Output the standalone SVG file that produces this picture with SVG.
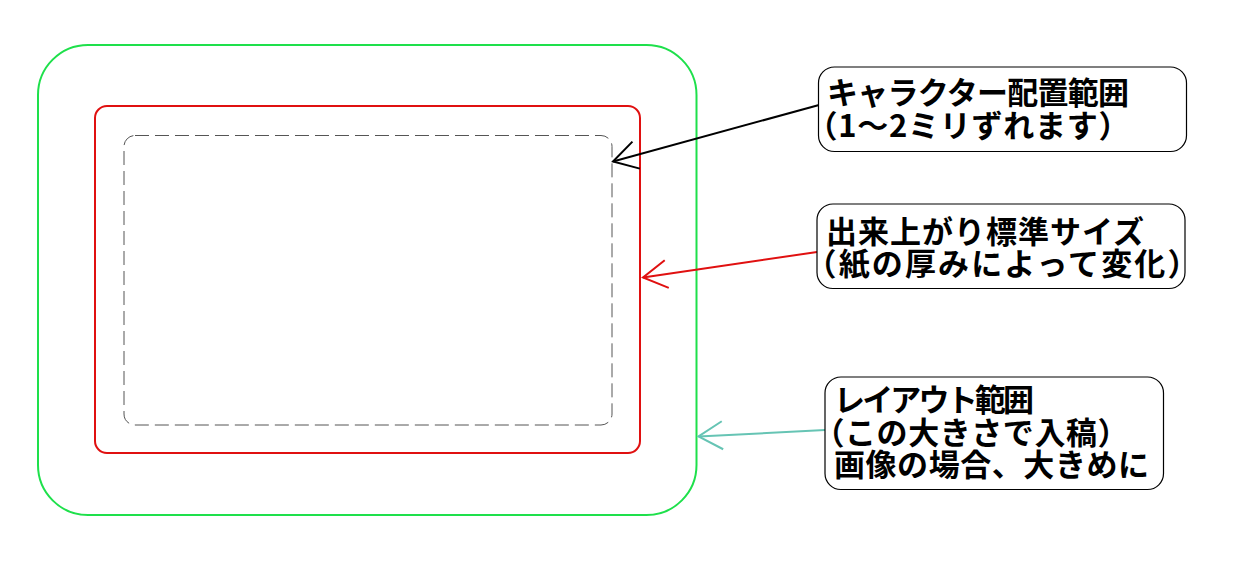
<svg xmlns="http://www.w3.org/2000/svg" width="1240" height="577" viewBox="0 0 1240 577">
<style>
.frame{fill:none}
.label{fill:#fff;stroke:#000;stroke-width:1.2}
.txt{font-family:"Noto Sans CJK JP","Noto Sans",sans-serif;font-size:31px;font-weight:bold;fill:#000}
.hw{font-feature-settings:"halt" 1}
.conn{fill:none;stroke-width:2}
</style>
<defs>
<marker id="ahBlack" markerUnits="userSpaceOnUse" markerWidth="40" markerHeight="40" refX="0" refY="0" orient="auto" overflow="visible" viewBox="-30 -20 40 40">
<path d="M-24,-14 L0,0 L-24,14" fill="none" stroke="#000" stroke-width="2"/>
</marker>
<marker id="ahRed" markerUnits="userSpaceOnUse" markerWidth="40" markerHeight="40" refX="0" refY="0" orient="auto" overflow="visible" viewBox="-30 -20 40 40">
<path d="M-24,-14 L0,0 L-24,14" fill="none" stroke="#e01010" stroke-width="2"/>
</marker>
<marker id="ahTeal" markerUnits="userSpaceOnUse" markerWidth="40" markerHeight="40" refX="0" refY="0" orient="auto" overflow="visible" viewBox="-30 -20 40 40">
<path d="M-24,-14 L0,0 L-24,14" fill="none" stroke="#66c4b4" stroke-width="2"/>
</marker>
</defs>
<rect width="1240" height="577" fill="#fff"/>
<g id="layout-area">
<rect class="frame" x="38" y="45" width="658.5" height="470" rx="50" ry="50" stroke="#1ee04b" stroke-width="2"/>
</g>
<g id="finish-size">
<rect class="frame" x="95" y="106" width="545" height="347" rx="12" ry="12" stroke="#e01010" stroke-width="2"/>
</g>
<g id="character-area">
<rect class="frame" x="124" y="135.5" width="488" height="289.5" rx="11" ry="11" stroke="#555" stroke-width="1" stroke-dasharray="14 6"/>
</g>
<g id="connectors">
<line class="conn" x1="819" y1="105" x2="613" y2="161.5" stroke="#000" marker-end="url(#ahBlack)"/>
<line class="conn" x1="817" y1="252" x2="643" y2="277.5" stroke="#e01010" marker-end="url(#ahRed)"/>
<line class="conn" x1="825" y1="430" x2="698.5" y2="436.5" stroke="#66c4b4" marker-end="url(#ahTeal)"/>
</g>
<g id="label-character">
<rect class="label" x="818.5" y="67" width="368" height="84.5" rx="16" ry="16"/>
<text class="txt" x="827" y="104" textLength="302" lengthAdjust="spacing">キャラクター配置範囲</text>
<text class="txt hw" x="822" y="137" textLength="292" lengthAdjust="spacing">（1～2ミリずれます）</text>
</g>
<g id="label-finish">
<rect class="label" x="817" y="204" width="368" height="84.5" rx="16" ry="16"/>
<text class="txt" x="826" y="243" textLength="318" lengthAdjust="spacing">出来上がり標準サイズ</text>
<text class="txt hw" x="821" y="275" textLength="362" lengthAdjust="spacing">（紙の厚みによって変化）</text>
</g>
<g id="label-layout">
<rect class="label" x="825" y="377" width="338.5" height="112.5" rx="16" ry="16"/>
<text class="txt" x="834" y="411" textLength="200" lengthAdjust="spacing">レイアウト範囲</text>
<text class="txt hw" x="829" y="444" textLength="284" lengthAdjust="spacing">（この大きさで入稿）</text>
<text class="txt" x="834" y="476" textLength="315" lengthAdjust="spacing">画像の場合、大きめに</text>
</g>
</svg>
